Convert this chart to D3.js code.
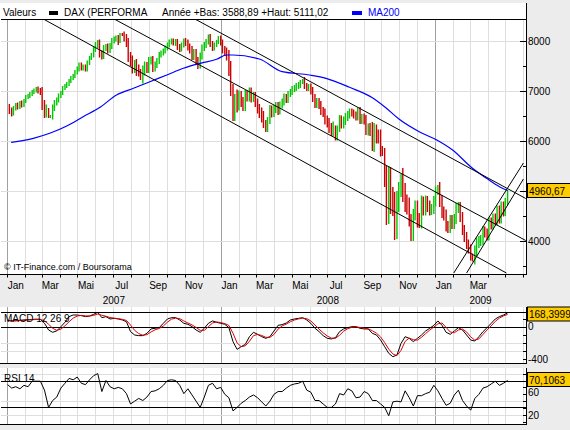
<!DOCTYPE html>
<html><head><meta charset="utf-8">
<script src="https://cdn.jsdelivr.net/npm/d3@7"></script>
<style>
body{margin:0;background:#ececec;}
svg{display:block;font-family:"Liberation Sans",Arial,sans-serif;}
</style></head><body>
<svg id="c" width="570" height="430"></svg>
<script>
// ---------- DATA ----------
const firstBarDate = "2007-01-02"; // bars every Tuesday and Friday
const closes = [
 6680,6600,6560,6650,6720,6680,6760,6720,6800,
 6880,6900,6940,6980,7010,7040,7000,6980,
 6720,6560,6640,6480,6500,6660,6760,6820,6900,
 6960,7060,7100,7140,7200,7260,7300,7380,
 7440,7520,7460,7480,7440,7560,7660,7720,7840,
 7920,7960,7740,7700,7860,7880,7820,7900,8000,
 8040,8060,7980,8140,8120,8060,7960,7680,7600,
 7460,7520,7420,7400,7260,7400,7500,7440,7600,
 7620,7460,7520,7600,7720,7760,7800,7860,
 7920,7980,8000,7960,7980,7880,7840,7920,8000,
 7960,7880,7820,7700,7760,7600,7520,7700,7860,
 7920,7980,8080,7940,7860,7920,7980,8060,
 7960,7820,7780,7700,7420,7080,6460,6880,6720,
 6900,6780,6700,6920,6880,6980,6860,6900,6760,
 6640,6560,6480,6380,6220,6440,6620,6560,
 6640,6700,6600,6720,6780,6880,6820,6940,6980,
 7040,7060,7100,7120,7160,7220,7100,7060,7080,
 7000,6860,6740,6780,6720,6600,6560,6420,
 6360,6260,6200,6280,6040,6280,6420,6340,6400,
 6480,6520,6580,6560,6520,6480,6600,6420,6460,
 6420,6220,6240,6220,5960,6180,6100,6080,5840,
 5760,5180,4640,5200,4820,4760,4240,4800,4960,
 5260,4980,4760,4700,4460,4080,4560,4660,
 4420,4400,4760,4640,4780,4700,4620,4640,4800,
 4980,5060,4800,4580,4520,4300,4260,4420,4340,
 4440,4660,4680,4480,4220,4080,3940,3840,
 3700,3640,3800,3960,4000,4020,4200,4160,4100,
 4380,4320,4460,4400,4620,4440,4700,4580,
 4780,4960.67
];
// intraperiod range beyond the close-to-close move (points, each side)
const wick = [
 50,60,70,50,40,50,40,50,40,
 40,40,40,40,40,40,50,60,
 100,100,90,20,20,70,60,50,50,
 40,40,40,40,40,40,40,40,
 50,50,50,50,50,50,40,40,50,
 60,60,70,70,60,60,70,60,60,
 50,50,60,20,20,70,80,100,100,
 110,100,120,110,40,110,90,80,80,
 70,80,70,60,60,50,50,50,
 50,50,50,50,60,60,60,50,50,
 60,70,70,80,80,80,80,70,70,
 60,60,50,60,60,50,40,40,
 50,70,80,90,120,180,60,60,150,
 110,100,100,100,90,90,90,80,80,
 90,100,110,120,40,40,100,90,
 80,80,80,70,70,70,60,60,60,
 60,60,60,60,60,20,60,60,60,
 70,80,80,80,80,80,80,90,
 90,100,100,110,30,30,100,90,90,
 80,80,70,70,70,70,70,80,80,
 90,100,110,120,160,180,150,130,150,
 60,100,320,300,280,260,220,200,220,
 80,200,180,170,170,80,80,150,
 150,140,150,130,130,120,110,100,100,
 110,60,120,120,110,110,100,100,100,
 100,100,100,100,100,100,100,90,
 90,50,110,110,100,100,100,90,90,
 90,90,90,90,90,90,90,90,
 80,60
];
const maDates = ["2007-01-08","2007-02-15","2007-03-15","2007-04-13","2007-05-11","2007-06-09","2007-07-07","2007-08-05","2007-09-02","2007-10-01","2007-10-29","2007-11-27","2007-12-25","2008-01-11","2008-01-22","2008-03-07","2008-04-15","2008-06-01","2008-06-29","2008-08-08","2008-09-16","2008-10-09","2008-11-01","2008-12-05","2009-01-04","2009-01-31","2009-03-06","2009-03-30","2009-04-21","2009-05-05"];
const ma200 = [5974,6054,6154,6300,6486,6674,6920,7054,7186,7320,7454,7554,7634,7720,7720,7640,7386,7320,7254,7074,6866,6666,6434,6186,6020,5820,5454,5254,5086,5010];
// weekly (Tuesday) values
const macd = [75,70,72,78,82,85,88,92,90,42,
 -40,-69,-52,0,54,123,143,143,135,123,
 131,151,176,110,123,94,102,94,82,61,
 -61,-102,-110,-110,-82,-28,-20,-12,41,94,
 110,110,82,41,29,0,-41,-69,-20,41,
 70,53,41,29,-12,-184,-278,-245,-217,-123,
 -69,-94,-123,-143,-123,-53,16,25,45,82,
 94,102,110,82,41,-20,-61,-110,-143,-151,
 -135,-61,-28,-12,0,0,-20,-28,-28,-82,
 -102,-164,-245,-327,-368,-348,-205,-123,-143,-184,
 -143,-102,-53,-20,16,70,16,-69,-94,-53,
 -12,-41,-102,-164,-176,-123,-61,-12,41,94,
 123,143,168.3999];
const signal = [78,75,73,75,78,82,85,88,89,72,
 30,-20,-45,-30,10,60,105,130,138,132,
 130,138,155,140,128,112,104,98,90,76,
 20,-45,-85,-105,-98,-65,-38,-22,8,55,
 92,105,98,70,45,22,-10,-45,-45,0,
 45,58,50,38,15,-80,-200,-245,-235,-180,
 -110,-95,-108,-130,-132,-95,-30,10,32,60,
 82,95,104,98,70,20,-30,-75,-115,-140,
 -142,-105,-55,-25,-8,-3,-10,-20,-26,-50,
 -80,-125,-195,-275,-335,-355,-290,-180,-140,-160,
 -165,-130,-85,-42,-5,35,45,-10,-65,-75,
 -40,-30,-65,-125,-165,-150,-95,-40,10,65,
 105,132,150];
const rsi = [64,59,61,58,63,61,69,69,69,56,
 31,41,46,59,66,73,71,75,66,64,
 71,77,80,54,70,61,58,60,58,51,
 36,40,44,41,46,54,55,58,63,70,
 71,70,63,51,58,49,40,31,46,63,
 66,58,60,50,45,26,31,37,41,46,
 49,45,39,33,40,50,54,54,59,63,
 65,66,69,56,53,41,41,36,31,31,
 36,51,49,58,55,45,46,54,51,41,
 41,36,31,19,39,40,39,55,45,33,
 48,48,51,53,63,55,44,34,37,49,
 56,41,33,27,44,50,59,61,65,69,
 63,66,70.1063];
const monthNames = ["Jan","Fév","Mar","Avr","Mai","Juin","Jul","Aoû","Sep","Oct","Nov","Déc"];
const priceTicks = [4000,5000,6000,7000,8000];
const priceLabels = [4000,6000,7000,8000];
const macdTicks = [100,0,-100,-200,-300,-400];
const macdLabels = [0,-400];
const rsiTicks = [10,20,30,40,50,60,70,80];
const rsiLabels = [20,60];
const channelLines = [
 [["2007-03-04",8440],["2009-05-03",3360]],
 [["2007-07-03",8440],["2009-06-05",4010]],
 [["2007-11-18",8440],["2009-06-05",4850]],
 [["2009-02-02",3360],["2009-06-01",5560]],
 [["2009-02-24",3360],["2009-06-01",5240]]
];
const titleText = {valeurs:"Valeurs", serie:"DAX (PERFORMA", info:"Année +Bas: 3588,89 +Haut: 5111,02", ma:"MA200"};

// ---------- SETUP ----------
const parse = d3.utcParse("%Y-%m-%d");
const svg = d3.select("#c");
const L = 1, R = 526;
const x = d3.scaleUtc().domain([parse("2007-01-01"), parse("2009-01-01")]).range([7, 435]);
const xEnd = x.invert(R), xStart = x.invert(L);
const yP = d3.scaleLinear().domain([3340, 8440]).range([274, 19]);
const yM = d3.scaleLinear().domain([-449, 176]).range([363.3, 312.3]);
const yR = d3.scaleLinear().domain([20, 70]).range([415, 380.5]);

const barDates = [];
{ let d = parse(firstBarDate);
  for (let i = 0; i < closes.length; i++) { barDates.push(d); d = d3.utcDay.offset(d, i % 2 === 0 ? 3 : 4); } }
const weekDates = barDates.filter((d, i) => i % 2 === 0);
const lastDate = barDates[barDates.length - 1];

const GRID = "#dedede", YEAR = "#a0a0a0", GREEN = "#00c800", RED = "#cc0000";

const panels = [
  {top: 3, bottom: 274, gTop: 19},
  {top: 307, bottom: 364, gTop: 307},
  {top: 368, bottom: 425, gTop: 368}
];
svg.append("rect").attr("width", 570).attr("height", 430).attr("fill", "#ececec");
panels.forEach(p => svg.append("rect").attr("x", 0).attr("y", p.top).attr("width", R).attr("height", p.bottom - p.top).attr("fill", "#fff"));

const months = d3.utcMonth.range(xStart, xEnd);
panels.forEach(p => {
  months.forEach(m => {
    const isYear = m.getUTCMonth() === 0;
    const xx = Math.round(x(m)) + 0.5;
    svg.append("line").attr("x1", xx).attr("x2", xx).attr("y1", p.gTop).attr("y2", p.bottom)
      .attr("stroke", isYear ? YEAR : GRID).attr("stroke-width", 1);
  });
});
const hgrid = (yy) => svg.append("line").attr("x1", L).attr("x2", R)
  .attr("y1", Math.round(yy) + 0.5).attr("y2", Math.round(yy) + 0.5).attr("stroke", GRID);
priceTicks.forEach(v => hgrid(yP(v)));
[-200, -300].forEach(v => hgrid(yM(v)));
[80, 40, 20].forEach(v => hgrid(yR(v)));

svg.append("clipPath").attr("id", "cp").append("rect").attr("x", L).attr("y", 19).attr("width", R - L).attr("height", 255);

// bars
const gb = svg.append("g").attr("clip-path", "url(#cp)");
for (let i = 1; i < closes.length; i++) {
  const hi = Math.max(closes[i - 1], closes[i]) + wick[i];
  const lo = Math.min(closes[i - 1], closes[i]) - wick[i];
  const up = closes[i] >= closes[i - 1];
  gb.append("rect").attr("x", x(barDates[i]) - 0.7).attr("width", 1.4)
    .attr("y", yP(hi)).attr("height", yP(lo) - yP(hi))
    .attr("fill", up ? GREEN : RED);
}
// MA200
gb.append("path").datum(maDates.map((d, i) => [parse(d), ma200[i]]))
  .attr("d", d3.line().x(d => x(d[0])).y(d => yP(d[1])).curve(d3.curveMonotoneX))
  .attr("fill", "none").attr("stroke", "#0000ff").attr("stroke-width", 1.2);
// channels
channelLines.forEach(l => gb.append("line")
  .attr("x1", x(parse(l[0][0]))).attr("y1", yP(l[0][1]))
  .attr("x2", x(parse(l[1][0]))).attr("y2", yP(l[1][1]))
  .attr("stroke", "#000").attr("stroke-width", 1));

const blk = (x1, y1, x2, y2) => svg.append("line").attr("x1", x1).attr("y1", y1).attr("x2", x2).attr("y2", y2).attr("stroke", "#000").attr("stroke-width", 1);
blk(L, 19.5, R, 19.5);
blk(R + 0.5, 3, R + 0.5, 274.5);
blk(0, 274.5, R + 1, 274.5);
months.forEach(m => blk(Math.round(x(m)) + 0.5, 274.5, Math.round(x(m)) + 0.5, 277.5));
months.filter(m => m.getUTCMonth() % 2 === 0 && d3.utcDay.offset(m, 15) <= lastDate).forEach(m => {
  const mid = x(d3.utcDay.offset(m, 15));
  svg.append("text").attr("x", mid).attr("y", 289).attr("text-anchor", "middle")
    .attr("font-size", 10).attr("fill", "#000").text(monthNames[m.getUTCMonth()]);
});
[2007, 2008, 2009].forEach(yy => {
  const a = Math.max(L, x(Date.UTC(yy, 0, 1))), b = Math.min(R, x(Date.UTC(yy + 1, 0, 1)));
  svg.append("text").attr("x", (a + b) / 2).attr("y", 303.5).attr("text-anchor", "middle")
    .attr("font-size", 10).text(yy);
});
d3.range(3500, 8500, 500).forEach(v => {
  const yy = Math.round(yP(v)) + 0.5;
  blk(v % 1000 === 0 ? 520 : 523, yy, R, yy);
});
priceLabels.forEach(v => svg.append("text").attr("x", 528).attr("y", yP(v) + 3.5).attr("font-size", 10).text(v));

svg.append("text").attr("x", 4).attr("y", 270).attr("font-size", 9).text("© IT-Finance.com / Boursorama");

svg.append("text").attr("x", 3).attr("y", 16).attr("font-size", 10).text(titleText.valeurs);
svg.append("rect").attr("x", 49).attr("y", 11).attr("width", 9).attr("height", 4).attr("fill", "#000");
svg.append("text").attr("x", 64).attr("y", 16).attr("font-size", 10).text(titleText.serie);
svg.append("text").attr("x", 162).attr("y", 16).attr("font-size", 10).text(titleText.info);
svg.append("rect").attr("x", 352).attr("y", 11).attr("width", 10).attr("height", 4).attr("fill", "#0000ff");
svg.append("text").attr("x", 368).attr("y", 16).attr("font-size", 10).attr("fill", "#0000ff").text(titleText.ma);

function valueBox(yc, txt) {
  const g = svg.append("g");
  g.append("rect").attr("x", 527.5).attr("y", yc - 7.5).attr("width", 50).attr("height", 14)
    .attr("fill", "#ffcc00").attr("stroke", "#000");
  g.append("text").attr("x", 529).attr("y", yc + 3.5).attr("font-size", 10).text(txt);
}
valueBox(191, "4960,67");

// ---------- MACD ----------
const lineW = d3.line().x((d, i) => x(weekDates[i])).y(d => yM(d));
blk(L, 312.5, R, 312.5);
blk(L, Math.round(yM(0)) + 0.5, R, Math.round(yM(0)) + 0.5);
blk(0, 363.5, R + 1, 363.5);
blk(R + 0.5, 307, R + 0.5, 364);
svg.append("path").datum(macd).attr("d", lineW).attr("fill", "none").attr("stroke", "#000").attr("stroke-width", 1);
svg.append("path").datum(signal).attr("d", lineW).attr("fill", "none").attr("stroke", "#e00000").attr("stroke-width", 1);
svg.append("text").attr("x", 4).attr("y", 322).attr("font-size", 10).text("MACD 12 26 9");
macdTicks.forEach(v => { const yy = Math.round(yM(v)) + 0.5; blk(523, yy, R, yy); });
macdLabels.forEach(v => svg.append("text").attr("x", 528).attr("y", yM(v) + 3.5).attr("font-size", 10).text(v));
valueBox(314.5, "168,3999");

// ---------- RSI ----------
const lineR = d3.line().x((d, i) => x(weekDates[i])).y(d => yR(d));
blk(L, Math.round(yR(70)) + 0.5, R, Math.round(yR(70)) + 0.5);
blk(L, Math.round(yR(30)) - 0.5, R, Math.round(yR(30)) - 0.5);
blk(0, 424.5, R + 1, 424.5);
blk(R + 0.5, 368, R + 0.5, 425);
svg.append("path").datum(rsi).attr("d", lineR).attr("fill", "none").attr("stroke", "#000").attr("stroke-width", 1);
svg.append("text").attr("x", 4).attr("y", 382).attr("font-size", 10).text("RSI 14");
rsiTicks.forEach(v => { const yy = Math.round(yR(v)) + 0.5; blk(523, yy, R, yy); });
// "60" sits just under the value box, as in the reference where the box hides its top
rsiLabels.forEach(v => svg.append("text").attr("x", 528)
  .attr("y", v === 60 ? 396 : yR(v) + 3.5).attr("font-size", 10).text(v));
valueBox(380, "70,1063");
</script>
</body></html>
